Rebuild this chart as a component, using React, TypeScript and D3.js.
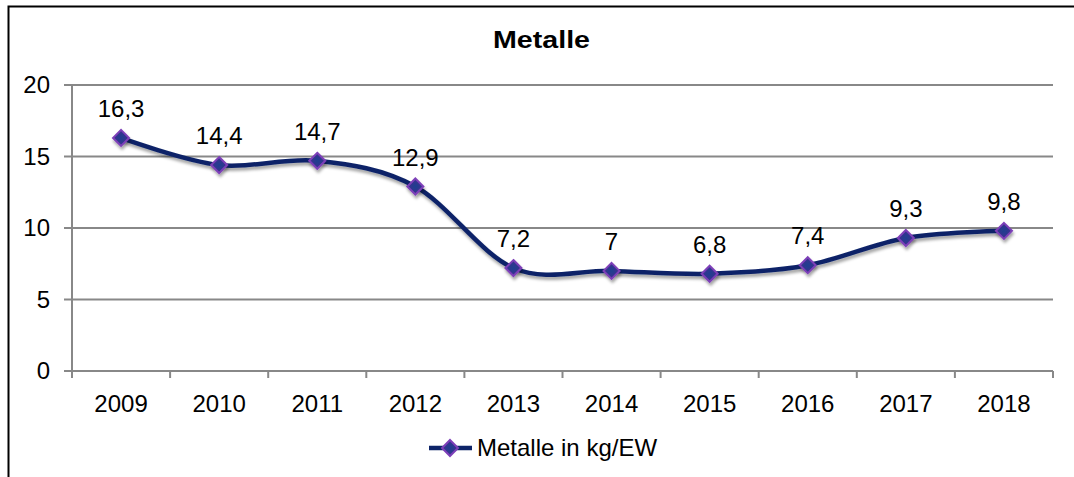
import React from 'react'
import * as d3 from 'd3'

const years = ['2009', '2010', '2011', '2012', '2013', '2014', '2015', '2016', '2017', '2018']
const metalle = [16.3, 14.4, 14.7, 12.9, 7.2, 7, 6.8, 7.4, 9.3, 9.8]
const yTicks = [0, 5, 10, 15, 20]
const seriesName = 'Metalle in kg/EW'
const title = 'Metalle'

const width = 1074
const height = 477
const font = '"Liberation Sans", Arial, sans-serif'

export default function App() {
  const ref = React.useRef<SVGSVGElement>(null)

  React.useEffect(() => {
    const svg = d3.select(ref.current)
    svg.selectAll('*').remove()

    const left = 72
    const right = 1053
    const top = 85
    const bottom = 371

    const x = d3.scaleBand().domain(years).range([left, right])
    const y = d3.scaleLinear().domain([0, 20]).range([bottom, top])

    // frame
    svg.append('path')
      .attr('d', `M8.5,${height} L8.5,6.5 L${width},6.5`)
      .attr('fill', 'none')
      .attr('stroke', '#000')
      .attr('stroke-width', 2)

    svg.append('text')
      .attr('x', 493)
      .attr('y', 48)
      .attr('textLength', 97)
      .attr('lengthAdjust', 'spacingAndGlyphs')
      .style('font-family', font)
      .style('font-size', '23px')
      .style('font-weight', 'bold')
      .text(title)

    // gridlines
    svg.append('g').selectAll('line')
      .data(yTicks.filter(d => d > 0))
      .enter().append('line')
      .attr('x1', left - 8)
      .attr('x2', right)
      .attr('y1', d => y(d))
      .attr('y2', d => y(d))
      .attr('stroke', '#888')
      .attr('stroke-width', 2)

    // y axis
    svg.append('line')
      .attr('x1', left).attr('x2', left)
      .attr('y1', top).attr('y2', bottom)
      .attr('stroke', '#888').attr('stroke-width', 2)

    svg.append('g').selectAll('text')
      .data(yTicks)
      .enter().append('text')
      .attr('x', 50)
      .attr('y', d => y(d))
      .attr('dy', '0.35em')
      .attr('text-anchor', 'end')
      .style('font-family', font)
      .style('font-size', '24px')
      .text(d => d)

    // x axis
    svg.append('line')
      .attr('x1', left - 8).attr('x2', right)
      .attr('y1', bottom).attr('y2', bottom)
      .attr('stroke', '#888').attr('stroke-width', 2)

    const edges = years.map(d => x(d) as number).concat([right])
    svg.append('g').selectAll('line')
      .data(edges)
      .enter().append('line')
      .attr('x1', d => d).attr('x2', d => d)
      .attr('y1', bottom).attr('y2', bottom + 7)
      .attr('stroke', '#888').attr('stroke-width', 2)

    svg.append('g').selectAll('text')
      .data(years)
      .enter().append('text')
      .attr('x', d => (x(d) as number) + x.bandwidth() / 2)
      .attr('y', 412)
      .attr('text-anchor', 'middle')
      .style('font-family', font)
      .style('font-size', '24px')
      .text(d => d)

    const px = (i: number) => (x(years[i]) as number) + x.bandwidth() / 2

    // shadow + marker fill
    const defs = svg.append('defs')
    const f = defs.append('filter').attr('id', 'sh').attr('x', '-50%').attr('y', '-50%').attr('width', '200%').attr('height', '200%')
    f.append('feDropShadow').attr('dx', 1).attr('dy', 3).attr('stdDeviation', 1.5).attr('flood-color', '#000').attr('flood-opacity', 0.35)
    const grad = defs.append('radialGradient').attr('id', 'mk')
    grad.append('stop').attr('offset', '0%').attr('stop-color', '#1f3f8f')
    grad.append('stop').attr('offset', '100%').attr('stop-color', '#3d2f8f')

    const line = d3.line<number>()
      .x((d, i) => px(i))
      .y(d => y(d))
      .curve(d3.curveCardinal.tension(0))

    svg.append('path')
      .datum(metalle)
      .attr('d', line)
      .attr('fill', 'none')
      .attr('stroke', '#0d2468')
      .attr('stroke-width', 4.5)
      .attr('filter', 'url(#sh)')

    const diamond = (cx: number, cy: number, r: number) =>
      `M${cx},${cy - r} L${cx + r},${cy} L${cx},${cy + r} L${cx - r},${cy} Z`

    svg.append('g').selectAll('path')
      .data(metalle)
      .enter().append('path')
      .attr('d', (d, i) => diamond(px(i), y(d), 8))
      .attr('fill', 'url(#mk)')
      .attr('stroke', '#7d3fb8')
      .attr('stroke-width', 2)
      .attr('filter', 'url(#sh)')

    svg.append('g').selectAll('text')
      .data(metalle)
      .enter().append('text')
      .attr('x', (d, i) => px(i))
      .attr('y', d => y(d) - 21)
      .attr('text-anchor', 'middle')
      .style('font-family', font)
      .style('font-size', '24px')
      .text(d => String(d).replace('.', ','))

    // legend
    const ly = 448
    svg.append('line')
      .attr('x1', 429).attr('x2', 472)
      .attr('y1', ly).attr('y2', ly)
      .attr('stroke', '#0d2468').attr('stroke-width', 4.5)
    svg.append('path')
      .attr('d', diamond(450, ly, 8))
      .attr('fill', 'url(#mk)')
      .attr('stroke', '#7d3fb8')
      .attr('stroke-width', 2)
    svg.append('text')
      .attr('x', 477)
      .attr('y', ly)
      .attr('dy', '0.35em')
      .style('font-family', font)
      .style('font-size', '24px')
      .text(seriesName)
  }, [])

  return (
    <div style={{ position: 'absolute', left: 0, top: 0 }}>
      <svg width={width} height={height} ref={ref} style={{ display: 'block', background: '#fff' }} />
    </div>
  )
}
